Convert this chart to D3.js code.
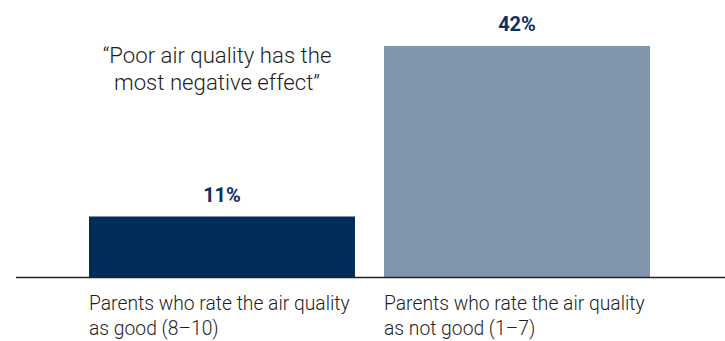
<!DOCTYPE html>
<html>
<head>
<meta charset="utf-8">
<script src="https://cdn.jsdelivr.net/npm/d3@7"></script>
<style>
  html, body { margin: 0; padding: 0; background: #fff; }
  svg { display: block; }
</style>
</head>
<body>
<svg id="chart" width="725" height="341"></svg>
<script>
// Share of parents agreeing that poor air quality has the most negative effect
const categories = ["good", "notGood"];
const categoryLines = [
  ["Parents who rate the air quality", "as good (8\u201310)"],
  ["Parents who rate the air quality", "as not good (1\u20137)"]
];
const values = [11, 42];
const valueLabels = ["11%", "42%"];
const barColors = ["#022d59", "#8196ad"];
const quoteLines = ["\u201cPoor air quality has the", "most negative effect\u201d"];

const svg = d3.select("#chart");
const baseline = 277;

const x = d3.scaleBand()
  .domain(categories)
  .range([89, 650])
  .paddingInner(29 / 295)
  .paddingOuter(0);

const y = d3.scaleLinear()
  .domain([0, 42])
  .range([baseline, 46]);

// bars
svg.append("g").selectAll("rect")
  .data(categories)
  .join("rect")
  .attr("x", d => x(d))
  .attr("width", x.bandwidth())
  .attr("y", (d, i) => y(values[i]))
  .attr("height", (d, i) => baseline - y(values[i]))
  .attr("fill", (d, i) => barColors[i]);

// value labels above the bars
svg.append("g").selectAll("text")
  .data(categories)
  .join("text")
  .attr("x", d => x(d) + x.bandwidth() / 2)
  .attr("y", (d, i) => y(values[i]) - 15)
  .attr("text-anchor", "middle")
  .attr("font-family", "Roboto, sans-serif")
  .attr("font-weight", 700)
  .attr("font-size", 20)
  .attr("fill", "#0d3060")
  .text((d, i) => valueLabels[i]);

// baseline axis
const axis = svg.append("g")
  .attr("transform", `translate(0,${baseline})`)
  .call(d3.axisBottom(x).tickSize(0).tickFormat(""));
axis.select(".domain").remove();
axis.append("line")
  .attr("x1", 16).attr("x2", 725)
  .attr("y1", 0.5).attr("y2", 0.5)
  .attr("stroke", "#222").attr("stroke-width", 1.3);

// category labels, left aligned under each bar
const catG = svg.append("g").selectAll("text")
  .data(categories)
  .join("text")
  .attr("x", d => x(d))
  .attr("y", baseline + 33)
  .attr("font-family", "Roboto, sans-serif")
  .attr("font-weight", 300)
  .attr("font-size", 19.3)
  .attr("fill", "#1e1e1e");
catG.each(function(d, i) {
  d3.select(this).selectAll("tspan")
    .data(categoryLines[i])
    .join("tspan")
    .attr("x", x(d))
    .attr("dy", (t, j) => j === 0 ? 0 : 25)
    .text(t => t);
});

// quote
svg.append("text")
  .attr("font-family", "Roboto, sans-serif")
  .attr("font-weight", 300)
  .attr("font-size", 22.2)
  .attr("fill", "#1e1e1e")
  .attr("text-anchor", "middle")
  .selectAll("tspan")
  .data(quoteLines)
  .join("tspan")
  .attr("x", 217)
  .attr("y", (t, j) => 63 + j * 27)
  .text(t => t);
</script>
</body>
</html>
